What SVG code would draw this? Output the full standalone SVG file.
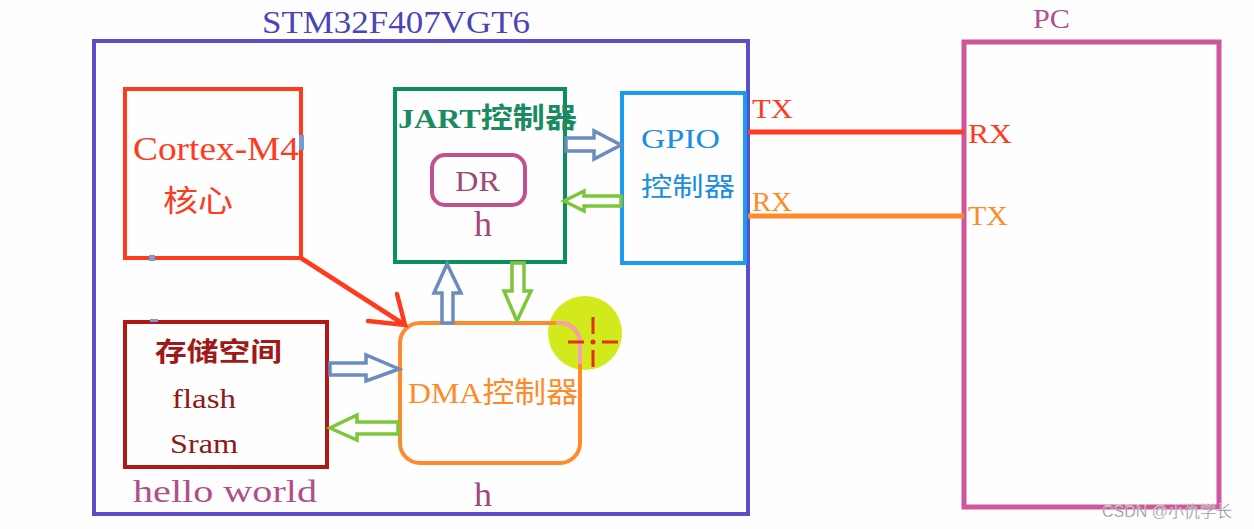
<svg xmlns="http://www.w3.org/2000/svg" width="1254" height="529" viewBox="0 0 1254 529">
<style>
.serif{font-family:"Liberation Serif","Noto Sans CJK SC",serif}
.box{fill:none;stroke-width:4}
.barB{fill:#fff;stroke:#6a8cc0;stroke-width:3.5;stroke-linejoin:miter}
.barG{fill:#fff;stroke:#7cc63a;stroke-width:3.5;stroke-linejoin:miter}
</style>
<rect width="1254" height="529" fill="#fefefe"/>
<g id="stm32">
<rect class="box" x="94" y="41" width="654" height="473" stroke="#5a4fc8"/>
<text class="serif" x="262" y="33" font-size="31" fill="#4b44b8" textLength="268" lengthAdjust="spacingAndGlyphs">STM32F407VGT6</text>
</g>
<g id="cortex">
<rect class="box" x="125" y="89" width="176" height="169" stroke="#ff3b1f"/>
<rect x="299" y="135" width="5" height="15" fill="#7a9ad0"/>
<rect x="149" y="255" width="6" height="6" fill="#7a9ad0"/>
<text class="serif" x="133" y="160" font-size="33" fill="#ff3b1f" textLength="166" lengthAdjust="spacingAndGlyphs">Cortex-M4</text>
<text class="serif" x="163" y="211" font-size="30" fill="#ff3b1f" textLength="70" lengthAdjust="spacingAndGlyphs">核心</text>
</g>
<g id="uart">
<rect class="box" x="395" y="89" width="170" height="173" stroke="#0a9060"/>
<text class="serif" x="398" y="128" font-size="28" font-weight="bold" fill="#1a8a60" textLength="179" lengthAdjust="spacingAndGlyphs">JART控制器</text>
</g>
<g id="dr">
<rect x="432" y="155" width="93" height="50" rx="13" fill="none" stroke="#c0508f" stroke-width="4"/>
<text class="serif" x="455" y="191" font-size="29" fill="#a04878" textLength="45" lengthAdjust="spacingAndGlyphs">DR</text>
<text class="serif" x="474" y="236" font-size="35" fill="#a04878" textLength="18" lengthAdjust="spacingAndGlyphs">h</text>
</g>
<g id="gpio">
<rect class="box" x="622" y="93" width="123" height="170" stroke="#1a9af0"/>
<text class="serif" x="641" y="148" font-size="27" fill="#1a8ee0" textLength="79" lengthAdjust="spacingAndGlyphs">GPIO</text>
<text class="serif" x="641" y="196" font-size="26" fill="#1a8ee0" textLength="94" lengthAdjust="spacingAndGlyphs">控制器</text>
</g>
<g id="cursor">
<circle cx="585" cy="333" r="37" fill="#d2ea1c"/>
</g>
<g id="dma">
<rect x="400" y="323" width="180" height="140" rx="20" fill="none" stroke="#ff8a2a" stroke-width="4"/>
<path d="M556,323 L560,323 A20,20 0 0 1 580,343 L580,364" fill="none" stroke="#f4a0b0" stroke-width="4"/>
<text class="serif" x="408" y="403" font-size="29" fill="#ff8a2a" textLength="170" lengthAdjust="spacingAndGlyphs">DMA控制器</text>
<text class="serif" x="474" y="506" font-size="34" fill="#a04878" textLength="18" lengthAdjust="spacingAndGlyphs">h</text>
</g>
<g id="crosshair" stroke="#e03010" stroke-width="3">
<line x1="568" y1="342" x2="584" y2="342"/>
<line x1="602" y1="342" x2="618" y2="342"/>
<line x1="593" y1="317" x2="593" y2="334"/>
<line x1="593" y1="350" x2="593" y2="367"/>
<circle cx="593" cy="342" r="2.5" fill="#e03010" stroke="none"/>
</g>
<g id="storage">
<rect class="box" x="125" y="322" width="202" height="145" stroke="#b01818"/>
<rect x="150" y="319" width="8" height="3" fill="#7a9ad0"/>
<text class="serif" x="155" y="361" font-size="26" font-weight="bold" fill="#a01818" textLength="127" lengthAdjust="spacingAndGlyphs">存储空间</text>
<text class="serif" x="172" y="408" font-size="27" fill="#901818" textLength="64" lengthAdjust="spacingAndGlyphs">flash</text>
<text class="serif" x="170" y="453" font-size="27" fill="#901818" textLength="68" lengthAdjust="spacingAndGlyphs">Sram</text>
<text class="serif" x="133" y="502" font-size="32" fill="#b0508a" textLength="184" lengthAdjust="spacingAndGlyphs">hello world</text>
</g>
<g id="pc">
<rect x="964" y="42" width="255" height="465" fill="none" stroke="#d0559a" stroke-width="5"/>
<text class="serif" x="1033" y="28" font-size="28" fill="#b05090" textLength="37" lengthAdjust="spacingAndGlyphs">PC</text>
<text class="serif" x="968" y="143" font-size="28" fill="#ff3b1f" textLength="44" lengthAdjust="spacingAndGlyphs">RX</text>
<text class="serif" x="968" y="225" font-size="27" fill="#ff8a2a" textLength="40" lengthAdjust="spacingAndGlyphs">TX</text>
</g>
<g id="connectors">
<line x1="748" y1="132" x2="964" y2="132" stroke="#ff3b1f" stroke-width="5"/>
<text class="serif" x="752" y="118" font-size="27" fill="#ff3b1f" textLength="41" lengthAdjust="spacingAndGlyphs">TX</text>
<line x1="748" y1="216" x2="964" y2="216" stroke="#ff8a2a" stroke-width="5"/>
<text class="serif" x="752" y="211" font-size="27" fill="#ff8a2a" textLength="40" lengthAdjust="spacingAndGlyphs">RX</text>
<path class="barB" d="M566,138 L594,138 L594,131 L621,145 L594,159 L594,151 L566,151 Z"/>
<path class="barG" d="M621,196 L584,196 L584,191 L564,201 L584,211 L584,206 L621,206 Z"/>
<path class="barB" d="M442,323 L442,293 L434,293 L447,264 L461,293 L453,293 L453,323 Z"/>
<path class="barG" d="M512,263 L512,291 L504,291 L517,321 L531,291 L524,291 L524,263 Z"/>
<path class="barB" d="M330,363 L366,363 L366,355 L399,369 L366,381 L366,375 L330,375 Z"/>
<path class="barG" d="M398,422 L357,422 L357,415 L330,428 L357,440 L357,434 L398,434 Z"/>
<g stroke="#ff3b1f" stroke-width="4.5" fill="none" stroke-linecap="round">
<line x1="301" y1="258" x2="405" y2="325"/>
<polyline points="397,294 405,325 368,321"/>
</g>
</g>
<text x="1102" y="517" font-family="Liberation Sans,'Noto Sans CJK SC',sans-serif" font-size="16" fill="#8a8a8a" stroke="#fff" stroke-width="0.3">CSDN @小仇学长</text>
</svg>
